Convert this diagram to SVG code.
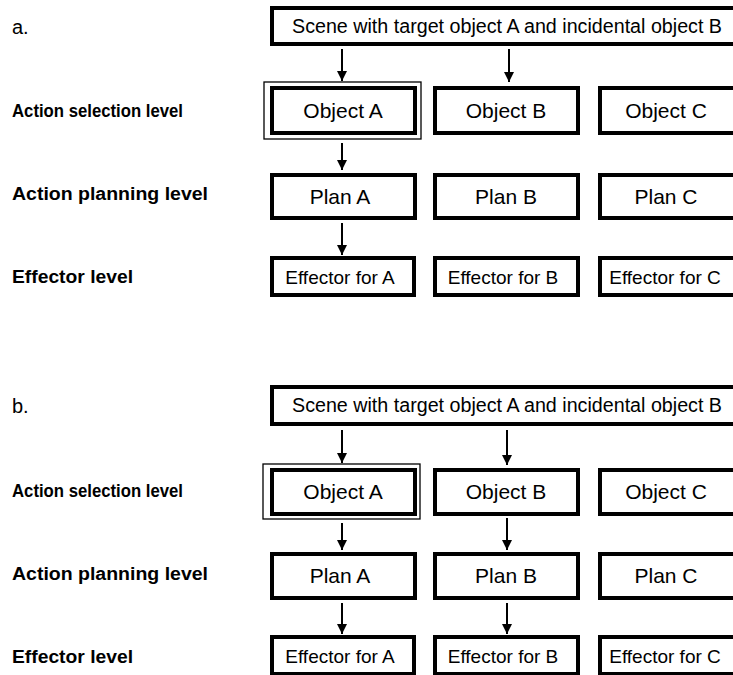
<svg xmlns="http://www.w3.org/2000/svg" width="733" height="675" viewBox="0 0 733 675">
<defs>
<style>
.box{fill:#fff;stroke:#000;stroke-width:4}
.sel{fill:none;stroke:#000;stroke-width:1.3}
.t{font-family:"Liberation Sans",Arial,sans-serif;font-size:21px;fill:#000;text-anchor:middle}
.ts{font-family:"Liberation Sans",Arial,sans-serif;font-size:19.5px;fill:#000;text-anchor:middle}
.te{font-family:"Liberation Sans",Arial,sans-serif;font-size:19px;fill:#000;text-anchor:middle}
.lab{font-family:"Liberation Sans",Arial,sans-serif;font-size:18px;font-weight:bold;fill:#000}
.pl{font-family:"Liberation Sans",Arial,sans-serif;font-size:20px;fill:#000}
.c{stroke:#000;stroke-width:2;fill:none;marker-end:url(#ah)}
</style>
<marker id="ah" viewBox="0 0 10 10" refX="10" refY="5" markerWidth="5" markerHeight="5" markerUnits="strokeWidth" orient="auto">
<path d="M0,0 L10,5 L0,10 z" fill="#000"/>
</marker>
</defs>
<rect width="733" height="675" fill="#fff"/>

<!-- Panel a labels -->
<g id="labels-a">
<text class="pl" x="12" y="34">a.</text>
<text class="lab" x="12" y="117" textLength="171" lengthAdjust="spacingAndGlyphs">Action selection level</text>
<text class="lab" x="12" y="200" textLength="196" lengthAdjust="spacingAndGlyphs">Action planning level</text>
<text class="lab" x="12" y="283" textLength="121" lengthAdjust="spacingAndGlyphs">Effector level</text>
</g>

<g id="a-scene"><rect class="box" x="272" y="8" width="470" height="36"/><text class="ts" x="507" y="33" textLength="430" lengthAdjust="spacingAndGlyphs">Scene with target object A and incidental object B</text></g>
<g id="a-objA"><rect class="sel" x="264" y="82" width="157" height="57"/><rect class="box" x="272" y="88" width="143" height="45"/><text class="t" x="343" y="118">Object A</text></g>
<g id="a-objB"><rect class="box" x="435" y="88" width="143" height="45"/><text class="t" x="506" y="118">Object B</text></g>
<g id="a-objC"><rect class="box" x="600" y="88" width="140" height="45"/><text class="t" x="666" y="118">Object C</text></g>
<g id="a-planA"><rect class="box" x="272" y="175" width="143" height="43"/><text class="t" x="340" y="204">Plan A</text></g>
<g id="a-planB"><rect class="box" x="435" y="175" width="143" height="43"/><text class="t" x="506" y="204">Plan B</text></g>
<g id="a-planC"><rect class="box" x="600" y="175" width="140" height="43"/><text class="t" x="666" y="204">Plan C</text></g>
<g id="a-effA"><rect class="box" x="272" y="258" width="142" height="37"/><text class="te" x="340" y="284">Effector for A</text></g>
<g id="a-effB"><rect class="box" x="435" y="258" width="143" height="37"/><text class="te" x="503" y="284">Effector for B</text></g>
<g id="a-effC"><rect class="box" x="600" y="258" width="140" height="37"/><text class="te" x="665" y="284">Effector for C</text></g>

<!-- Panel b labels -->
<g id="labels-b">
<text class="pl" x="12" y="413">b.</text>
<text class="lab" x="12" y="497" textLength="171" lengthAdjust="spacingAndGlyphs">Action selection level</text>
<text class="lab" x="12" y="580" textLength="196" lengthAdjust="spacingAndGlyphs">Action planning level</text>
<text class="lab" x="12" y="663" textLength="121" lengthAdjust="spacingAndGlyphs">Effector level</text>
</g>

<g id="b-scene"><rect class="box" x="272" y="387" width="470" height="37"/><text class="ts" x="507" y="412" textLength="430" lengthAdjust="spacingAndGlyphs">Scene with target object A and incidental object B</text></g>
<g id="b-objA"><rect class="sel" x="263" y="464" width="157" height="55"/><rect class="box" x="272" y="470" width="143" height="44"/><text class="t" x="343" y="499">Object A</text></g>
<g id="b-objB"><rect class="box" x="435" y="470" width="143" height="44"/><text class="t" x="506" y="499">Object B</text></g>
<g id="b-objC"><rect class="box" x="600" y="470" width="140" height="44"/><text class="t" x="666" y="499">Object C</text></g>
<g id="b-planA"><rect class="box" x="272" y="554" width="143" height="44"/><text class="t" x="340" y="583">Plan A</text></g>
<g id="b-planB"><rect class="box" x="435" y="554" width="143" height="44"/><text class="t" x="506" y="583">Plan B</text></g>
<g id="b-planC"><rect class="box" x="600" y="554" width="140" height="44"/><text class="t" x="666" y="583">Plan C</text></g>
<g id="b-effA"><rect class="box" x="272" y="637" width="142" height="37"/><text class="te" x="340" y="663">Effector for A</text></g>
<g id="b-effB"><rect class="box" x="435" y="637" width="143" height="37"/><text class="te" x="503" y="663">Effector for B</text></g>
<g id="b-effC"><rect class="box" x="600" y="637" width="140" height="37"/><text class="te" x="665" y="663">Effector for C</text></g>

<g id="connectors">
<line class="c" x1="342" y1="49" x2="342" y2="81"/>
<line class="c" x1="509" y1="49" x2="509" y2="82"/>
<line class="c" x1="342" y1="143" x2="342" y2="170"/>
<line class="c" x1="342" y1="223" x2="342" y2="255"/>
<line class="c" x1="342" y1="430" x2="342" y2="463"/>
<line class="c" x1="507" y1="430" x2="507" y2="465"/>
<line class="c" x1="342" y1="523" x2="342" y2="550"/>
<line class="c" x1="507" y1="518" x2="507" y2="550"/>
<line class="c" x1="342" y1="603" x2="342" y2="634"/>
<line class="c" x1="507" y1="603" x2="507" y2="634"/>
</g>
</svg>
